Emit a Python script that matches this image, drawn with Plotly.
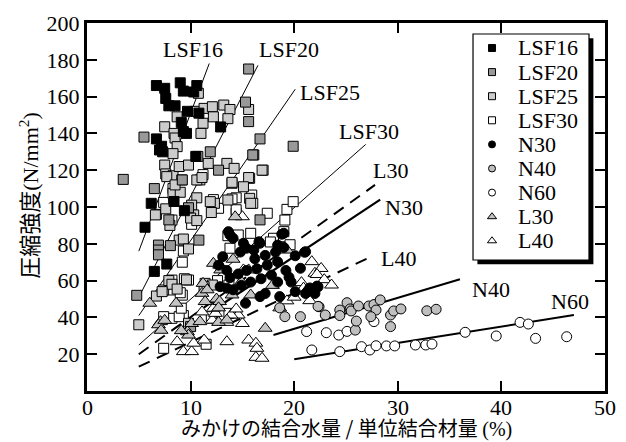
import plotly.graph_objects as go

# ---------------- data ----------------
x_tick_vals = [0, 10, 20, 30, 40, 50]
y_tick_vals = [20, 40, 60, 80, 100, 120, 140, 160, 180, 200]

lsf16_x = [6.7, 7.5, 9.0, 9.3, 10.6, 10.3, 7.6, 7.9, 8.5, 9.7, 10.8, 9.1, 9.3, 12.9, 6.7, 7.2, 7.3, 7.0,
           10.5, 6.2, 8.4, 9.4, 5.6, 7.7, 6.5, 9.6]
lsf16_y = [166, 164.5, 167.5, 163, 166, 162.5, 159, 155, 155, 152, 151, 146, 141, 143.5, 137, 133, 130, 131,
           127.5, 102, 103, 98, 89, 69, 65, 140]

lsf20_x = [3.5, 5.5, 6.5, 11.9, 10.7, 12.7, 15.6, 15.3, 15.6, 16.7, 16.1, 19.9, 9.2, 6.9, 6.9, 6.9, 8.05,
           10.8, 4.8, 7.9, 9.8, 16.7, 10.0, 16.0]
lsf20_y = [115, 138, 110, 130, 127.5, 120, 175, 157, 146.4, 137, 128.3, 133, 114.7, 79.3, 76.6, 74, 79,
           82, 52, 93, 99.6, 93, 35, 128.3]

lsf25_x = [7.5, 8.7, 8.4, 8.5, 8.7, 8.3, 7.5, 7.6, 8.3, 8.9, 9.15, 9.8, 10.75, 10.5, 11.2, 11.0, 11.3, 12.1,
           12.2, 13.2, 13.8, 13.6, 11.7, 13.5, 14.2, 14.0, 12.3, 13.6, 10.9, 15.6, 17.0, 15.7, 8.3, 9.0,
           10.6, 10.1, 6.7, 7.6, 7.7, 8.5, 10.6, 11.1, 14.0, 15.6, 6.6, 8.0, 10.3, 10.0, 10.6, 11.9, 12.0,
           15.7, 15.8, 8.9, 9.3, 9.8, 7.4, 7.9, 8.2, 8.7, 9.6, 11.4, 12.1, 5.0, 6.7, 7.25, 9.8, 11.3, 15.1,
           16.9]
lsf25_y = [143.6, 149, 140, 137.5, 132.8, 129, 122.8, 118, 117, 122, 114.7, 122.8, 161.8, 152, 145.5, 140,
           153.6, 154.5, 149, 155.4, 153, 148, 123.7, 123.7, 121, 112.9, 102, 103.8, 114.7, 153, 120, 115.6,
           107.4, 108, 105, 101, 96, 99, 116.5, 112, 114.7, 116, 113.4, 116, 95.7, 90, 95.7, 94, 92.6,
           102.9, 97, 104.7, 102, 82, 82.6, 77.2, 54.9, 60, 58, 55.4, 60.4, 58.5, 57.6, 36, 51.6, 54, 36.8,
           56.7, 111, 120]

lsf30_x = [8.3, 11.2, 14.4, 15.9, 16.0, 17.4, 19.3, 19.9, 14.4, 12.7, 8.2, 10.1, 15.8, 13.6, 9.3, 9.2, 8.2,
           9.8, 8.1, 9.2, 8.2, 9.3, 7.4, 11.5, 12.1, 13.7, 9.4, 9.0, 12.6, 18.0, 19.1, 19.6, 19.0, 19.1,
           13.8, 13.7, 14.6, 17.7, 8.9, 9.1, 12.0, 7.4, 14.4, 12.2, 7.4, 14.0]
lsf30_y = [110, 117.6, 105, 106.5, 102, 96.6, 98.7, 102.9, 96.6, 99.3, 92.9, 90.6, 85.7, 84.4, 76.1, 70,
           60.3, 60.3, 54.9, 52.1, 39.5, 41, 23.2, 25.4, 39.5, 42.2, 61, 53.4, 60, 83, 78.4, 79.5, 86.6,
           92.9, 77.6, 57.6, 84.8, 81, 40.4, 45, 40.4, 40.4, 98.5, 104, 102.5, 104.4]

n30_x = [13.65, 13.8, 14.1, 15.1, 15.4, 16.1, 16.7, 19.0, 20.1, 20.6, 21.0, 15.3, 16.7, 17.2, 18.6, 20.1,
         21.1, 21.5, 22.2, 12.85, 13.5, 14.1, 13.8, 14.6, 15.4, 16.4, 17.4, 18.4, 16.2, 17.2, 18.2, 19.2,
         19.5, 16.8, 17.8, 18.4, 15.8, 14.9, 19.7, 12.7, 13.1, 14.8, 18.4, 19.0, 13.5, 21.1, 21.7, 22.3,
         22.0, 21.3, 18.8, 16.6]
n30_y = [86.6, 84.8, 83, 80.3, 77.6, 76.6, 80.3, 85.7, 73.5, 66.7, 75.4, 47.7, 51.3, 53, 51.3, 54, 53, 56,
         57, 56.7, 55.9, 55, 61.6, 63.6, 65.5, 66.4, 68.4, 70.2, 71.9, 73.7, 75.5, 65.5, 61.8, 61, 63,
         59.2, 59.2, 57.4, 59.2, 68.4, 73, 75.5, 79.3, 78, 65.5, 75.7, 54.9, 56.6, 53, 54.3, 85.2, 81.1]

n40_x = [20.6, 23.0, 24.4, 24.4, 25.1, 25.4, 25.5, 26.2, 25.9, 27.2, 27.7, 28.3, 27.9, 27.4, 29.3, 29.6,
         30.3, 29.3, 32.8, 33.7, 22.4, 19.1, 22.3, 18.6, 26.0]
n40_y = [40.4, 41.3, 44, 41, 48, 44.6, 43.5, 46.2, 33.1, 46.2, 47, 49.5, 44, 40.4, 41.3, 43.5, 44.6, 35,
         43.6, 44.4, 45.8, 40.4, 46, 45.2, 38]

n60_x = [21.2, 23.1, 24.3, 25.1, 21.7, 24.4, 26.5, 27.3, 27.9, 28.9, 29.7, 31.7, 32.7, 33.3, 36.5, 39.5,
         41.8, 42.6, 43.3, 46.3, 27.7]
n60_y = [32.3, 31.7, 30.4, 32.4, 22.3, 21.4, 24.1, 22.3, 24.6, 24.5, 24.5, 25, 25, 25.5, 31.9, 29.9,
         37.3, 36.4, 28.6, 29.5, 37.7]

l30_x = [6.06, 7.1, 6.9, 7.15, 8.6, 9.7, 9.8, 10.1, 10.9, 11.1, 11.4, 12.5, 12.8, 12.7, 13.5, 14.0, 15.8,
         17.2, 7.5, 9.1, 11.2, 11.6, 12.2, 12.8, 12.9, 14.9, 15.6, 17.9, 19.3, 14.3, 12.7, 14.1]
l30_y = [47.7, 37.7, 36, 33, 47.7, 32.2, 30.4, 36.7, 37.7, 53.1, 48.6, 50, 48.6, 37.3, 38.6, 52.2, 52.2,
         34.1, 38.4, 32.8, 58.5, 55, 69.4, 68.4, 65.8, 59.4, 65.8, 57.4, 76.6, 94.7, 45.2, 71.6]

l40_x = [8.7, 9.3, 10.1, 10.3, 11.3, 13.5, 15.6, 16.3, 16.4, 16.3, 16.9, 11.1, 12.1, 13.5, 15.0, 14.6, 12.4,
         18.6, 19.3, 20.0, 20.7, 21.7, 22.0, 21.5, 12.2, 13.9, 14.4, 15.1, 22.6, 22.2, 22.9, 23.6, 20.9,
         15.0]
l40_y = [26.8, 21.4, 21.4, 26.0, 27.7, 26.8, 27.7, 26, 23.2, 18.3, 17.8, 43, 38.5, 37.3, 36.7, 41.3, 42.2,
         45.2, 49, 51, 58.9, 70.3, 64, 49.1, 45, 41.3, 44.6, 65.8, 66.6, 63.3, 60.5, 57.6, 55.9, 94.7]

# regression lines (end points)
fit_names = ["LSF16", "LSF20", "LSF25", "LSF30", "L30", "N30", "L40", "N40", "N60"]
fit_x0 = [5.0, 5.0, 5.0, 5.0, 5.0, 13.0, 5.0, 18.0, 20.0]
fit_y0 = [76, 51, 41, 25, 20, 47, 13.2, 30.4, 17.2]
fit_x1 = [11.8, 16.5, 20.1, 26.9, 27.8, 28.3, 27.3, 36.0, 47.0]
fit_y1 = [178, 177, 164, 134, 112, 104, 72.7, 60.7, 41.3]
fit_width = [1, 1, 1, 1, 2, 2.2, 2, 2, 2]
fit_dash = ["solid", "solid", "solid", "solid", "12px,8px", "solid", "12px,8px", "solid", "solid"]

# curve labels
lab_text = ["LSF16", "LSF20", "LSF25", "LSF30", "L30", "N30", "L40", "N40", "N60"]
lab_x = [10.2, 19.5, 23.5, 27.2, 29.3, 30.6, 30.1, 39.0, 46.6]
lab_y = [185.5, 185.5, 162, 141, 120, 99.5, 72, 55, 48.5]

# series styles
series = [
    ("LSF30", lsf30_x, lsf30_y, "square", "white", 10),
    ("LSF25", lsf25_x, lsf25_y, "square", "#cccccc", 10),
    ("LSF20", lsf20_x, lsf20_y, "square", "#999999", 10),
    ("LSF16", lsf16_x, lsf16_y, "square", "black", 10),
    ("L40", l40_x, l40_y, "triangle-up", "white", 12),
    ("L30", l30_x, l30_y, "triangle-up", "#c4c4c4", 12),
    ("N60", n60_x, n60_y, "circle", "white", 10),
    ("N40", n40_x, n40_y, "circle", "#bfbfbf", 10),
    ("N30", n30_x, n30_y, "circle", "black", 10),
]
legend_order = ["LSF16", "LSF20", "LSF25", "LSF30", "N30", "N40", "N60", "L30", "L40"]

SERIF = "Liberation Serif, Times New Roman, serif"
GOTHIC = "Noto Sans CJK JP"

fig = go.Figure()

for i in range(len(fit_names)):
    fig.add_trace(go.Scatter(
        x=[fit_x0[i], fit_x1[i]], y=[fit_y0[i], fit_y1[i]], mode="lines",
        line=dict(color="black", width=fit_width[i], dash=fit_dash[i]),
        showlegend=False, hoverinfo="skip"))

for name, xs, ys, sym, col, sz in series:
    fig.add_trace(go.Scatter(
        x=xs, y=ys, mode="markers", name=name, showlegend=False,
        marker=dict(symbol=sym, color=col, size=sz, line=dict(color="black", width=1))))

# ---------- manual legend (box with drop shadow) ----------
style = {s[0]: s for s in series}
L_x0, L_x1, L_y0, L_y1 = 0.7452, 0.9691, 0.356, 0.9701
sx, sy = 0.0085, 0.0115
fig.add_shape(type="rect", xref="paper", yref="paper", x0=L_x0 + sx, x1=L_x1 + sx,
              y0=L_y0 - sy, y1=L_y1 - sy, fillcolor="black", line=dict(width=0), layer="below")
fig.add_shape(type="rect", xref="paper", yref="paper", x0=L_x0, x1=L_x1, y0=L_y0, y1=L_y1,
              fillcolor="white", line=dict(color="black", width=1.2), layer="below")

row_top = 0.9321
row_step = 24.1 / 368
mk_x = 0.7819
for i, name in enumerate(legend_order):
    _, _, _, sym, col, sz = style[name]
    yy = row_top - i * row_step
    fig.add_trace(go.Scatter(
        x=[mk_x], y=[yy], xaxis="x2", yaxis="y2", mode="markers", showlegend=False,
        hoverinfo="skip",
        marker=dict(symbol=sym, color=col, size=7 if sym != "triangle-up" else 8,
                    line=dict(color="black", width=1))))
    fig.add_annotation(x=0.828, y=yy, xref="paper", yref="paper", text=name, showarrow=False,
                       xanchor="left", yanchor="middle",
                       font=dict(family=SERIF, size=22, color="black"))

for t, xx, yy in zip(lab_text, lab_x, lab_y):
    fig.add_annotation(x=xx, y=yy, text=t, showarrow=False, xanchor="center", yanchor="middle",
                       font=dict(family=SERIF, size=22, color="black"))

# x tick labels placed on the x scale, slightly closer to the axis than plotly's default
for v in x_tick_vals:
    fig.add_annotation(x=v, xref="x", y=-0.0435, yref="paper", text=str(v), showarrow=False,
                       xanchor="center", yanchor="middle",
                       font=dict(family=SERIF, size=22, color="black"))

# axis titles
fig.add_annotation(x=-0.114, y=0.533, xref="paper", yref="paper", textangle=-90, showarrow=False,
                   text='<span style="font-family:Noto Sans CJK JP">圧縮強度</span>(N/mm<sup>2</sup>)',
                   font=dict(family=SERIF, size=22, color="black"), xanchor="center", yanchor="middle")
fig.add_annotation(x=0.5, y=-0.1005, xref="paper", yref="paper", showarrow=False,
                   text='みかけの結合水量 / 単位結合材量 <span style="font-family:Liberation Serif">(%)</span>',
                   font=dict(family=GOTHIC, size=20, color="black"), xanchor="center", yanchor="middle")

axis_common = dict(showgrid=False, zeroline=False, ticks="inside", ticklen=10, tickwidth=1.5,
                   tickcolor="black", showline=True, linewidth=3, linecolor="black", mirror="ticks")
fig.update_layout(
    width=626, height=442, margin=dict(l=87, r=21, t=23, b=51),
    paper_bgcolor="white", plot_bgcolor="white", showlegend=False,
    xaxis=dict(range=[0, 50], tickvals=x_tick_vals, showticklabels=False, **axis_common),
    yaxis=dict(range=[0, 200], tickvals=y_tick_vals,
               tickfont=dict(family=SERIF, size=22, color="black"), **axis_common),
    xaxis2=dict(overlaying="x", range=[0, 1], visible=False, domain=[0, 1]),
    yaxis2=dict(overlaying="y", range=[0, 1], visible=False, domain=[0, 1]),
)

fig.write_html("out.html")
